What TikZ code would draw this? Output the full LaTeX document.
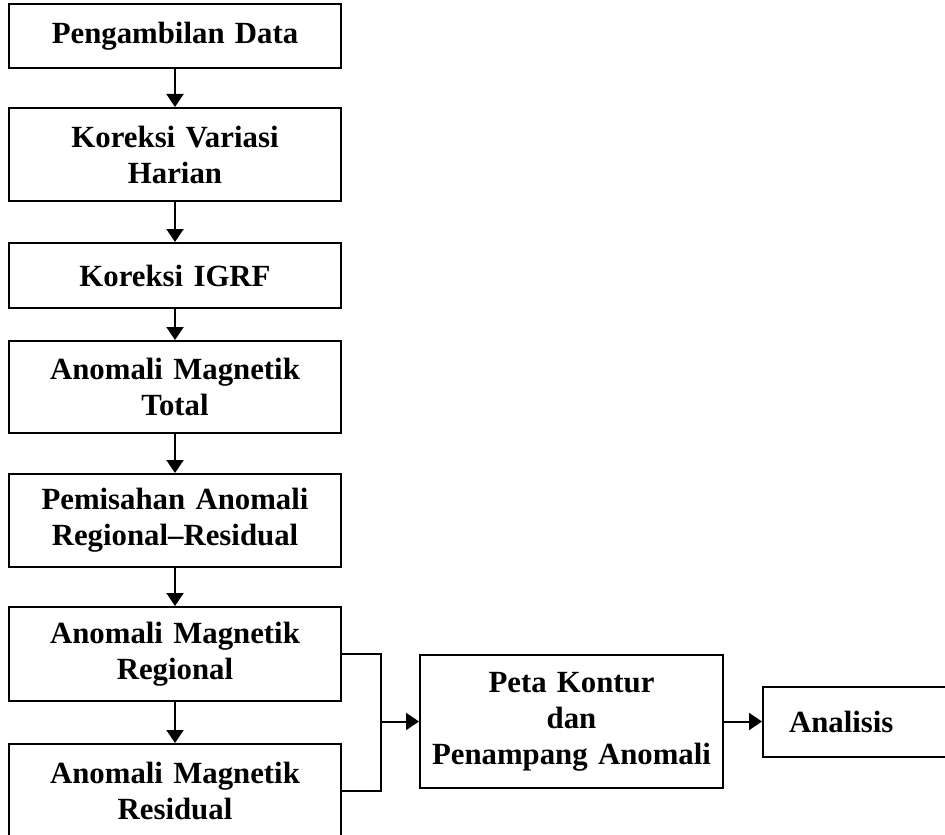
\documentclass[tikz,border=0pt]{standalone}
\usepackage{fontspec}
\setmainfont{Liberation Serif}
\usetikzlibrary{positioning,arrows.meta}

\tikzset{
  stepbox/.style={rectangle, draw, line width=1pt, text width=158pt, inner xsep=4pt, align=center, font=\fontsize{15.4}{18}\selectfont\bfseries},
}

\begin{document}
\begin{tikzpicture}[x=0.5pt, y=0.5pt, node distance=19.5pt, >={Triangle[length=6.5pt,width=8.5pt]}]
            \clip (0,0) rectangle (945,-834);
            \node[stepbox, minimum height=32pt] (data) at (175,-36) {Pengambilan Data};
            \node[stepbox, minimum height=46.5pt, below=19pt of data] (harian) {Koreksi Variasi\\ Harian};
            \node[stepbox, minimum height=32.5pt, below=20pt of harian] (igrf) {Koreksi IGRF};
            \node[stepbox, minimum height=46pt, below=15.5pt of igrf] (total) {Anomali Magnetik\\ Total};
            \node[stepbox, minimum height=46.5pt, below=of total] (pisah) {Pemisahan Anomali\\ Regional--Residual};
            \node[stepbox, minimum height=47pt, below=19pt of pisah] (reg) {Anomali Magnetik\\ Regional};
            \node[stepbox, minimum height=47pt, below=20.5pt of reg] (res) {Anomali Magnetik\\ Residual};
            \node[stepbox, text width=143.5pt, minimum height=66.5pt, anchor=west] (peta) at (419,-721.5) {Peta Kontur\\ dan\\ Penampang Anomali};
            \node[stepbox, text width=70pt, inner xsep=13pt, align=left, minimum height=35pt, right=19pt of peta] (analisis) {Analisis};
            \coordinate (jn) at ([xshift=-19pt]peta.west);

            \draw[->, line width=1pt] (data) -- (harian);
            \draw[->, line width=1pt] (harian) -- (igrf);
            \draw[->, line width=1pt] (igrf) -- (total);
            \draw[->, line width=1pt] (total) -- (pisah);
            \draw[->, line width=1pt] (pisah) -- (reg);
            \draw[->, line width=1pt] (reg) -- (res);
            \draw[line width=1pt] (reg.east) -| (jn) |- (res.east);
            \draw[->, line width=1pt] (jn) -- (peta);
            \draw[->, line width=1pt] (peta) -- (analisis);
        \end{tikzpicture}
\end{document}
